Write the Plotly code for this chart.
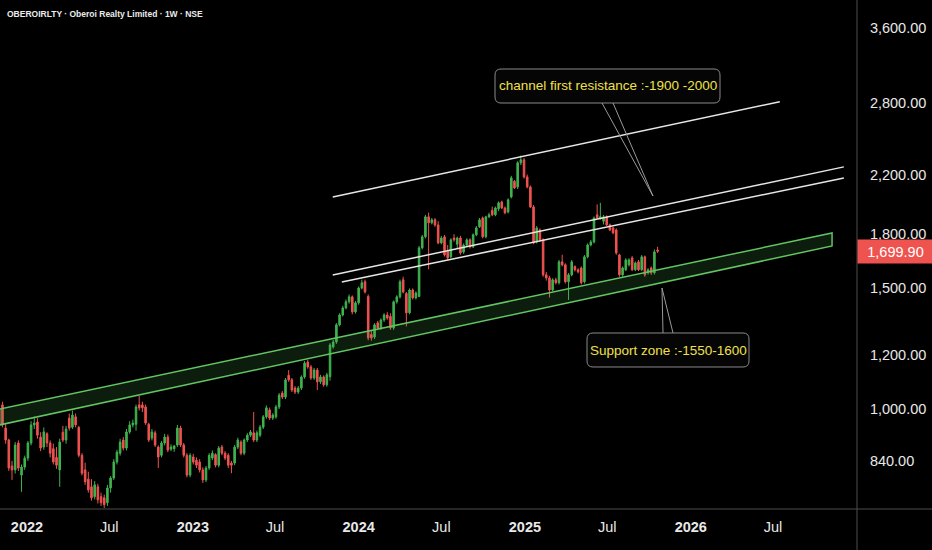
import numpy as np
import pandas as pd
import plotly.graph_objects as go

# Weekly OHLC, OBEROIRLTY (NSE), first week starting 2021-11-08
week_start = "2021-11-08"
opens = [1014, 938, 901, 826, 815, 892, 801, 823, 848, 892, 948, 957, 910, 880, 920, 892, 875, 850, 815, 925,
         901, 970, 941, 974, 940, 856, 815, 790, 770, 745, 770, 745, 742, 730, 767, 793, 837, 862, 901, 877,
         926, 948, 950, 1014, 1014, 1007, 950, 907, 923, 880, 856, 892, 910, 874, 875, 886, 938, 886, 856, 801,
         851, 842, 837, 815, 788, 820, 848, 858, 828, 880, 862, 856, 834, 834, 880, 895, 862, 901, 916, 923,
         901, 916, 941, 974, 997, 970, 974, 1007, 1055, 1041, 1120, 1103, 1073, 1059, 1073, 1114, 1171, 1152, 1110, 1140,
         1096, 1114, 1085, 1115, 1232, 1253, 1327, 1372, 1405, 1434, 1458, 1386, 1429, 1502, 1534, 1460, 1285, 1274, 1336, 1313,
         1349, 1372, 1365, 1313, 1434, 1458, 1544, 1475, 1382, 1492, 1453, 1460, 1719, 1784, 1908, 1870, 1889, 1857, 1748, 1784,
         1700, 1668, 1777, 1740, 1777, 1695, 1735, 1766, 1725, 1796, 1845, 1901, 1784, 1908, 1950, 1921, 1960, 2006, 1966, 1940,
         2040, 2150, 2110, 2288, 2311, 2182, 2110, 1973, 1754, 1826, 1766, 1570, 1554, 1492, 1544, 1529, 1640, 1624, 1534, 1570,
         1615, 1597, 1607, 1534, 1668, 1736, 1754, 1921, 1901, 1880, 1908, 1857, 1838, 1826, 1679, 1570, 1597, 1624, 1662, 1597,
         1640, 1597, 1668, 1581, 1607, 1581, 1707]
highs = [1025, 950, 905, 840, 895, 900, 830, 855, 898, 960, 975, 970, 925, 940, 925, 900, 890, 880, 905, 945,
         945, 985, 995, 985, 945, 862, 835, 810, 790, 785, 778, 755, 750, 775, 798, 845, 872, 905, 910, 935,
         960, 965, 1015, 1045, 1025, 1015, 955, 935, 930, 885, 898, 920, 918, 888, 886, 948, 945, 892, 862, 862,
         860, 850, 845, 822, 826, 862, 870, 862, 883, 886, 868, 862, 840, 886, 908, 900, 906, 922, 932, 990,
         930, 948, 980, 1012, 1005, 986, 1014, 1055, 1062, 1110, 1140, 1110, 1080, 1080, 1120, 1175, 1180, 1160, 1148, 1148,
         1122, 1120, 1130, 1248, 1262, 1335, 1380, 1415, 1445, 1470, 1465, 1438, 1510, 1545, 1545, 1470, 1305, 1335, 1345, 1356,
         1380, 1385, 1380, 1440, 1466, 1545, 1560, 1482, 1500, 1500, 1485, 1730, 1795, 1920, 1935, 1900, 1900, 1880, 1790, 1795,
         1735, 1775, 1800, 1785, 1790, 1745, 1775, 1775, 1805, 1850, 1900, 1910, 1915, 1935, 1975, 1975, 2010, 2015, 1975, 2030,
         2190, 2160, 2300, 2345, 2325, 2200, 2120, 1985, 1850, 1835, 1775, 1585, 1565, 1552, 1555, 1650, 1680, 1632, 1580, 1650,
         1620, 1605, 1615, 1678, 1745, 1765, 1910, 1990, 2000, 1920, 1918, 1865, 1845, 1835, 1685, 1615, 1660, 1660, 1672, 1642,
         1650, 1678, 1675, 1605, 1615, 1710, 1725]
lows = [940, 890, 812, 788, 805, 812, 757, 815, 840, 885, 935, 905, 868, 872, 880, 850, 830, 818, 770, 895,
        890, 930, 935, 940, 850, 800, 775, 755, 735, 738, 728, 722, 717, 722, 755, 788, 830, 855, 870, 870,
        920, 940, 930, 995, 990, 948, 895, 900, 880, 820, 850, 885, 865, 868, 866, 880, 880, 850, 795, 795,
        830, 820, 808, 780, 782, 815, 842, 822, 822, 856, 842, 820, 806, 828, 874, 856, 856, 895, 910, 895,
        895, 910, 935, 968, 964, 964, 968, 1000, 1034, 1034, 1096, 1059, 1052, 1052, 1066, 1107, 1145, 1103, 1103, 1066,
        1088, 1078, 1078, 1100, 1225, 1245, 1320, 1365, 1398, 1425, 1375, 1378, 1420, 1495, 1475, 1260, 1258, 1265, 1305, 1305,
        1340, 1350, 1305, 1305, 1425, 1450, 1475, 1320, 1375, 1445, 1445, 1462, 1710, 1775, 1600, 1860, 1845, 1740, 1740, 1670,
        1650, 1660, 1755, 1715, 1680, 1685, 1725, 1715, 1718, 1788, 1838, 1775, 1775, 1900, 1912, 1912, 1945, 1958, 1925, 1930,
        2030, 2095, 2095, 2270, 2170, 2100, 1965, 1740, 1745, 1755, 1560, 1540, 1455, 1485, 1520, 1520, 1615, 1525, 1443, 1562,
        1588, 1578, 1520, 1525, 1660, 1728, 1745, 1895, 1890, 1860, 1850, 1818, 1800, 1680, 1560, 1560, 1590, 1615, 1590, 1590,
        1590, 1590, 1560, 1572, 1570, 1572, 1690]
closes = [948, 901, 820, 815, 886, 820, 823, 848, 892, 948, 954, 916, 877, 926, 892, 862, 837, 828, 895, 901,
          935, 938, 980, 948, 856, 806, 783, 762, 742, 775, 737, 730, 725, 767, 793, 837, 865, 895, 877, 926,
          948, 954, 1007, 1004, 1004, 954, 901, 926, 886, 851, 892, 910, 871, 880, 883, 938, 886, 856, 801, 856,
          837, 828, 815, 788, 820, 856, 862, 828, 877, 862, 848, 828, 828, 880, 901, 862, 901, 916, 926, 901,
          923, 941, 974, 1004, 970, 980, 1007, 1048, 1041, 1103, 1103, 1066, 1059, 1073, 1114, 1167, 1152, 1110, 1140, 1096,
          1114, 1085, 1122, 1240, 1253, 1327, 1372, 1405, 1434, 1458, 1386, 1429, 1502, 1529, 1482, 1270, 1270, 1327, 1313, 1349,
          1372, 1358, 1313, 1434, 1458, 1534, 1482, 1382, 1492, 1453, 1477, 1719, 1784, 1908, 1870, 1889, 1857, 1748, 1777, 1679,
          1662, 1766, 1766, 1777, 1690, 1735, 1766, 1725, 1796, 1838, 1889, 1784, 1908, 1921, 1921, 1966, 2000, 1966, 1934, 2020,
          2175, 2103, 2288, 2311, 2182, 2110, 1973, 1748, 1838, 1766, 1570, 1554, 1492, 1544, 1529, 1640, 1624, 1534, 1570, 1640,
          1597, 1586, 1529, 1668, 1736, 1754, 1901, 1901, 1908, 1908, 1857, 1826, 1808, 1690, 1570, 1607, 1651, 1651, 1597, 1634,
          1597, 1668, 1570, 1597, 1581, 1696, 1699.9]

weeks = pd.date_range(week_start, periods=len(closes), freq="7D")

# drawings: (date, price) endpoints
band_upper = [("2021-11-02", 1000), ("2026-11-08", 1807)]
band_lower = [("2021-11-02", 948), ("2026-11-08", 1730)]
white_lines = [
    [("2023-11-05", 2040), ("2026-07-16", 2810)],
    [("2023-11-05", 1569), ("2026-12-04", 2257)],
    [("2023-11-25", 1533), ("2026-12-04", 2174)],
]

y_ticks = [840, 1000, 1200, 1500, 1800, 2200, 2800, 3600]
x_ticks = ["2022-01-01", "2022-07-01", "2023-01-01", "2023-07-01", "2024-01-01", "2024-07-01",
           "2025-01-01", "2025-07-01", "2026-01-01", "2026-07-01"]
x_labels = ["<b>2022</b>", "Jul", "<b>2023</b>", "Jul", "<b>2024</b>", "Jul",
            "<b>2025</b>", "Jul", "<b>2026</b>", "Jul"]

FONT = "Liberation Sans, Arial, sans-serif"
UP = "#3fb34f"
DOWN = "#ef5350"
YELLOW = "#f0e14a"

# plot area in pixels (figure 932x550)
PW, PH = 857, 509


def paper(px, py):
    return px / PW, 1 - py / PH


def rounded_box(x0, y0, x1, y1, r):
    pts = [("M", x0 + r, y0), ("L", x1 - r, y0), ("Q", x1, y0, x1, y0 + r),
           ("L", x1, y1 - r), ("Q", x1, y1, x1 - r, y1), ("L", x0 + r, y1),
           ("Q", x0, y1, x0, y1 - r), ("L", x0, y0 + r), ("Q", x0, y0, x0 + r, y0)]
    s = ""
    for p in pts:
        cmd, coords = p[0], p[1:]
        parts = []
        for i in range(0, len(coords), 2):
            px, py = paper(coords[i], coords[i + 1])
            parts.append(f"{px:.5f},{py:.5f}")
        s += cmd + " " + " ".join(parts) + " "
    return s + "Z"


def tail(a, tip, b):
    pa, pt, pb = paper(*a), paper(*tip), paper(*b)
    return f"M {pa[0]:.5f},{pa[1]:.5f} L {pt[0]:.5f},{pt[1]:.5f} L {pb[0]:.5f},{pb[1]:.5f}"


fig = go.Figure()

# support band (filled parallelogram)
band_x = [band_upper[0][0], band_upper[1][0], band_lower[1][0], band_lower[0][0], band_upper[0][0]]
band_y = [band_upper[0][1], band_upper[1][1], band_lower[1][1], band_lower[0][1], band_upper[0][1]]
fig.add_trace(go.Scatter(x=band_x, y=band_y, mode="lines", fill="toself",
                         fillcolor="rgba(76,175,80,0.16)", line=dict(color="#62c462", width=1.5),
                         hoverinfo="skip", showlegend=False))

for ln in white_lines:
    fig.add_trace(go.Scatter(x=[p[0] for p in ln], y=[p[1] for p in ln], mode="lines",
                             line=dict(color="#e6e6e6", width=1.5), hoverinfo="skip", showlegend=False))

fig.add_trace(go.Candlestick(
    x=weeks, open=opens, high=highs, low=lows, close=closes,
    increasing=dict(line=dict(color=UP, width=1), fillcolor=UP),
    decreasing=dict(line=dict(color=DOWN, width=1), fillcolor=DOWN),
    whiskerwidth=0, showlegend=False, hoverinfo="skip"))

shapes = [
    # axis separators running to the figure edges
    dict(type="line", xref="paper", yref="paper", x0=1, x1=1, y0=-41 / PH, y1=1,
         line=dict(color="#4d4d4d", width=1)),
    dict(type="line", xref="paper", yref="paper", x0=0, x1=932 / PW, y0=0, y1=0,
         line=dict(color="#4d4d4d", width=1)),
    # callout boxes
    dict(type="path", xref="paper", yref="paper", path=rounded_box(495, 69, 720, 103, 6),
         fillcolor="#050505", line=dict(color="#8a8a8a", width=1), layer="above"),
    dict(type="path", xref="paper", yref="paper", path=tail((602, 103), (653, 196), (613, 103)),
         line=dict(color="#9a9a9a", width=1), layer="above"),
    dict(type="path", xref="paper", yref="paper", path=rounded_box(587, 333, 749, 367, 6),
         fillcolor="#050505", line=dict(color="#8a8a8a", width=1), layer="above"),
    dict(type="path", xref="paper", yref="paper", path=tail((663, 333), (662, 288), (673, 333)),
         line=dict(color="#9a9a9a", width=1), layer="above"),
]

annotations = [
    dict(text="<b>OBEROIRLTY · Oberoi Realty Limited · 1W · NSE</b>", xref="paper", yref="paper",
         x=paper(5, 14)[0], y=paper(5, 14)[1], xanchor="left", yanchor="middle", showarrow=False,
         font=dict(family=FONT, size=8.5, color="#ececec")),
    dict(text="channel first resistance :-1900 -2000", xref="paper", yref="paper",
         x=paper(607.5, 86)[0], y=paper(607.5, 86)[1], xanchor="center", yanchor="middle",
         showarrow=False, font=dict(family=FONT, size=13.5, color=YELLOW)),
    dict(text="Support zone :-1550-1600", xref="paper", yref="paper",
         x=paper(668, 350)[0], y=paper(668, 350)[1], xanchor="center", yanchor="middle",
         showarrow=False, font=dict(family=FONT, size=13.5, color=YELLOW)),
    dict(text=f"{closes[-1]:,.2f}", xref="paper", yref="y", x=1, y=np.log10(closes[-1]),
         xanchor="left", yanchor="middle", showarrow=False, bgcolor=DOWN, width=73, height=21,
         font=dict(family=FONT, size=14.5, color="#ffffff")),
]

fig.update_layout(
    width=932, height=550,
    margin=dict(l=0, r=75, t=0, b=41),
    paper_bgcolor="#000000", plot_bgcolor="#000000",
    shapes=shapes, annotations=annotations,
    showlegend=False, hovermode=False,
    xaxis=dict(type="date", range=["2021-11-02 14:00", "2027-01-01 22:00"], automargin=False,
               rangeslider=dict(visible=False), showgrid=False, zeroline=False,
               tickvals=x_ticks, ticktext=x_labels, ticks="outside", ticklen=5, tickcolor="#000000",
               tickfont=dict(family=FONT, size=14.5, color="#e8e8e8")),
    yaxis=dict(type="log", side="right", range=[np.log10(714.6), np.log10(3955)], automargin=False,
               showgrid=False, zeroline=False,
               tickvals=y_ticks, ticktext=[f"{v:,.2f}" for v in y_ticks],
               ticks="outside", ticklen=9, tickcolor="#000000",
               tickfont=dict(family=FONT, size=14.5, color="#e8e8e8")),
)

# page has a default body margin; drop it so the figure fills the window
fig.write_html("out.html", config={"displayModeBar": False},
               post_script="document.body.style.margin='0px';"
               "document.body.style.background='#000000';")
